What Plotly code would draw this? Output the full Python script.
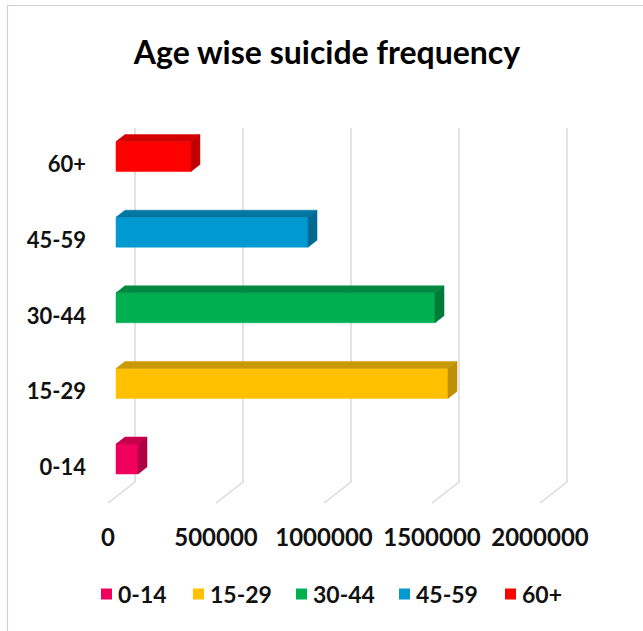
import plotly.graph_objects as go

# Age groups and suicide counts
age_groups = ["0-14", "15-29", "30-44", "45-59", "60+"]
suicides = [102000, 1537000, 1477000, 889000, 347000]
front_colors = ["#F0005C", "#FFC000", "#00B050", "#0099D0", "#FF0000"]
top_colors = ["#C8004C", "#C99A08", "#008A40", "#0076A2", "#D20000"]
side_colors = ["#B00044", "#BE8F00", "#007A38", "#006A92", "#BE0000"]
x_ticks = [0, 500000, 1000000, 1500000, 2000000]
x_tick_text = ["0", "500000", "1000000", "1500000", "2000000"]

# Figure geometry (pixels)
W, H = 643, 631
L, R, T, B = 103, 52, 120, 121
plot_w, plot_h = W - L - R, H - T - B
px_per_unit_x = 108 / 500000          # horizontal scale
px_per_cat = 75.6                     # spacing between categories
zero_px = 116                         # left edge of bar fronts
base_py = 459                         # centre of the lowest bar (from top)

x_range = [(L - zero_px) / px_per_unit_x, (L + plot_w - zero_px) / px_per_unit_x]
y_range = [(base_py - (T + plot_h)) / px_per_cat, (base_py - T) / px_per_cat]

bar_h = 30 / px_per_cat               # bar thickness in category units
depth_dx = 9 / px_per_unit_x          # 3D depth offset
depth_dy = 7 / px_per_cat
back_dx = 19 / px_per_unit_x          # back wall offset of gridlines
floor_dx = 8 / px_per_unit_x          # front floor edge offset
floor_back_y = (base_py - 482) / px_per_cat
floor_front_y = (base_py - 503) / px_per_cat
wall_top_y = (base_py - 128) / px_per_cat


def paper_x(px):
    return (px - L) / plot_w


def paper_y(py):
    return (T + plot_h - py) / plot_h


fig = go.Figure()

# Top and side faces of each bar
for i, (v, tc, sc) in enumerate(zip(suicides, top_colors, side_colors)):
    y0, y1 = i - bar_h / 2, i + bar_h / 2
    fig.add_trace(go.Scatter(
        x=[0, v, v + depth_dx, depth_dx, 0],
        y=[y1, y1, y1 + depth_dy, y1 + depth_dy, y1],
        fill="toself", fillcolor=tc, mode="lines",
        line=dict(color=tc, width=0.5), hoverinfo="skip", showlegend=False))
    fig.add_trace(go.Scatter(
        x=[v, v + depth_dx, v + depth_dx, v, v],
        y=[y0, y0 + depth_dy, y1 + depth_dy, y1, y0],
        fill="toself", fillcolor=sc, mode="lines",
        line=dict(color=sc, width=0.5), hoverinfo="skip", showlegend=False))

# Front faces
for i, (name, v, fc) in enumerate(zip(age_groups, suicides, front_colors)):
    fig.add_trace(go.Bar(
        x=[v], y=[i], base=0, orientation="h", width=bar_h,
        name=name, showlegend=False,
        marker=dict(color=fc, line=dict(color=fc, width=0.5))))

# Gridlines on the back wall and floor, kept beneath the bars
shapes = []
for g in x_ticks:
    shapes.append(dict(
        type="path", xref="x", yref="y", layer="below",
        path=(f"M {g + back_dx},{wall_top_y} L {g + back_dx},{floor_back_y} "
              f"L {g - floor_dx},{floor_front_y}"),
        line=dict(color="#D9D9D9", width=1.5)))

# Chart area border (top and left edges visible)
shapes += [
    dict(type="line", xref="paper", yref="paper",
         x0=paper_x(7), x1=paper_x(W + 5), y0=paper_y(5.5), y1=paper_y(5.5),
         line=dict(color="#D0D0D0", width=1.2)),
    dict(type="line", xref="paper", yref="paper",
         x0=paper_x(7.5), x1=paper_x(7.5), y0=paper_y(5.5), y1=paper_y(H + 5),
         line=dict(color="#D0D0D0", width=1.2)),
]

font_family = "Lato, 'Open Sans', sans-serif"

# Legend row: colour swatch followed by the group label
legend_swatch_px = [101, 193, 296, 399, 505]
legend_row_py = 594
annotations = []
for name, fc, sx in zip(age_groups, front_colors, legend_swatch_px):
    shapes.append(dict(
        type="rect", xref="paper", yref="paper",
        x0=paper_x(sx), x1=paper_x(sx + 11),
        y0=paper_y(legend_row_py + 5.5), y1=paper_y(legend_row_py - 5.5),
        fillcolor=fc, line=dict(width=0)))
    annotations.append(dict(
        xref="paper", yref="paper", x=paper_x(sx + 15), y=paper_y(legend_row_py),
        xanchor="left", yanchor="middle", showarrow=False,
        text=f"<b>{name}</b>",
        font=dict(size=23, family=font_family, color="#111111")))

fig.update_layout(
    width=W, height=H,
    margin=dict(l=L, r=R, t=T, b=B),
    paper_bgcolor="white", plot_bgcolor="white",
    font=dict(family=font_family, color="#111111"),
    title=dict(text="<b>Age wise suicide frequency</b>",
               x=327 / W, xanchor="center", xref="container",
               y=1 - 53 / H, yanchor="middle", yref="container",
               font=dict(size=32, color="#000000", family=font_family)),
    showlegend=False,
    barmode="overlay",
    xaxis=dict(range=x_range, showgrid=False, zeroline=False, showline=False,
               tickmode="array", tickvals=x_ticks,
               ticktext=[f"<b>{t}</b>" for t in x_tick_text],
               ticks="", ticklabelshift=-8, ticklabelstandoff=11,
               tickfont=dict(size=24, family=font_family, color="#111111"),
               fixedrange=True),
    yaxis=dict(range=y_range, showgrid=False, zeroline=False, showline=False,
               tickmode="array", tickvals=list(range(len(age_groups))),
               ticktext=[f"<b>{a}</b>" for a in age_groups],
               ticks="", ticklabelshift=8, ticklabelstandoff=16,
               tickfont=dict(size=22, family=font_family, color="#111111"),
               fixedrange=True),
    shapes=shapes,
    annotations=annotations,
)

fig.write_html("out.html", config={"displayModeBar": False})
